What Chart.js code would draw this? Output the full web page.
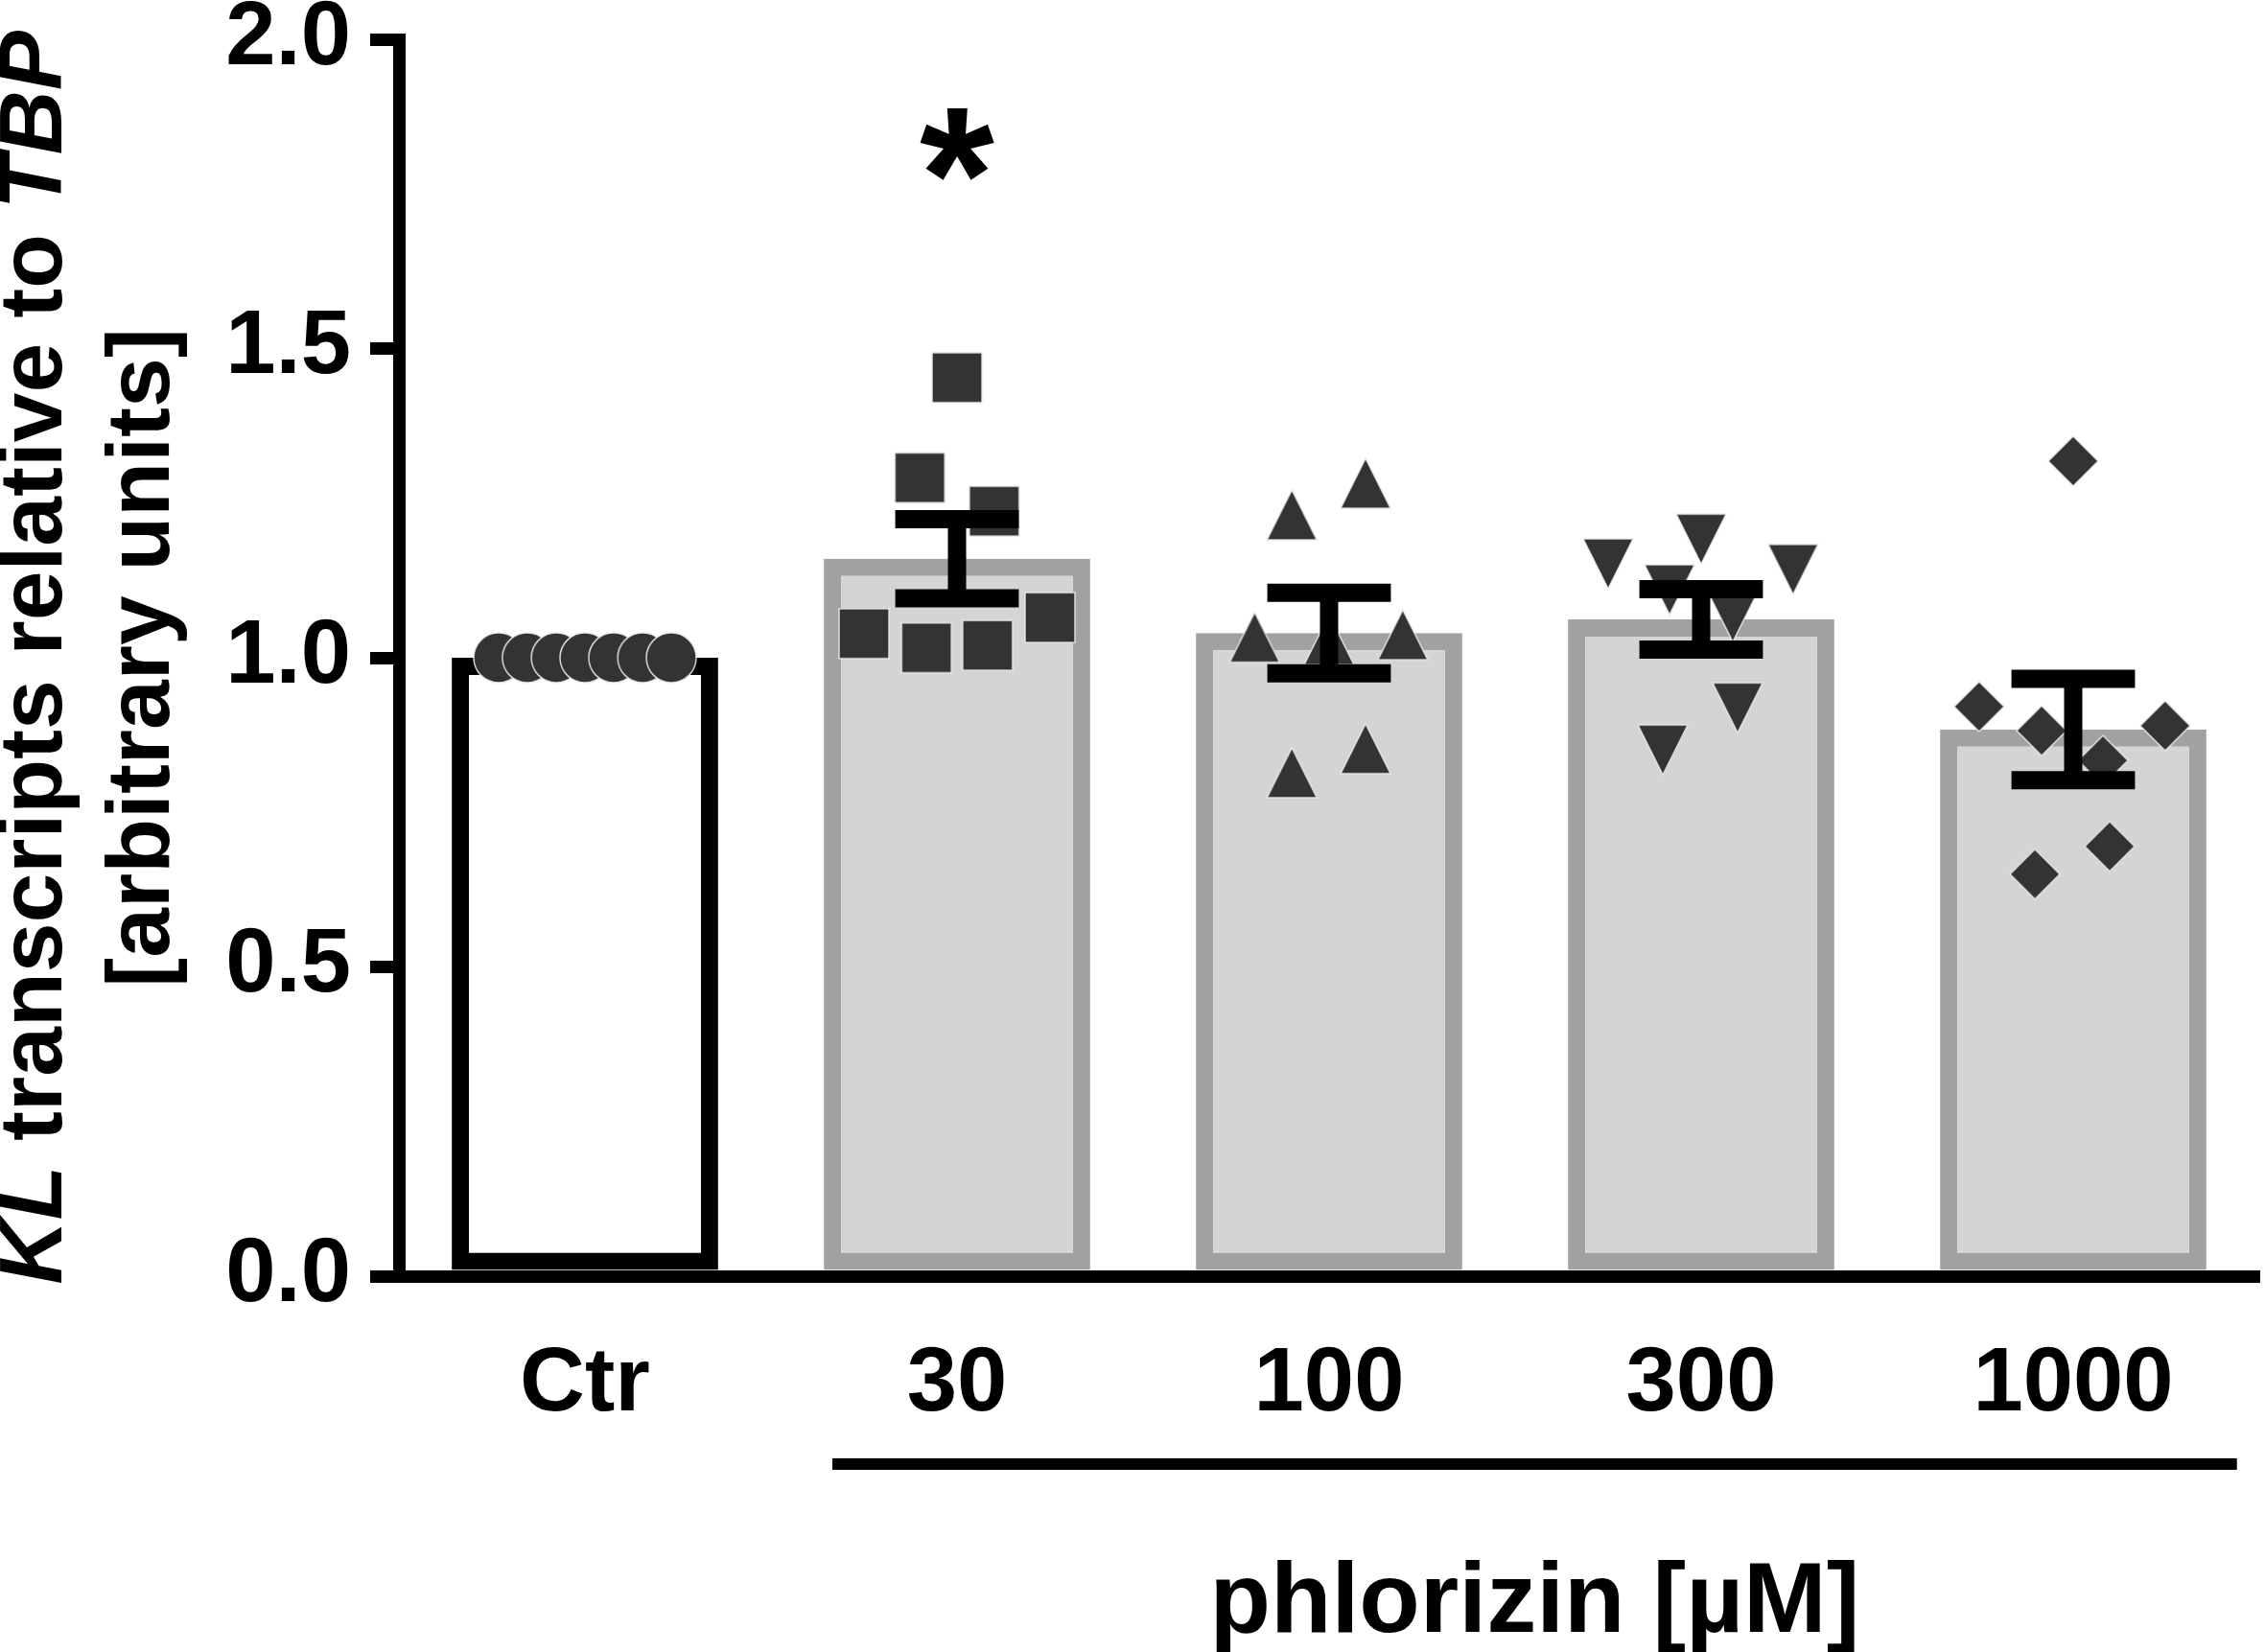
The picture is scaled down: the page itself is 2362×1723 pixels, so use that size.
<!DOCTYPE html>
<html>
<head>
<meta charset="utf-8">
<title>KL transcripts - phlorizin</title>
<script src="https://cdn.jsdelivr.net/npm/chart.js@4.4.1/dist/chart.umd.min.js"></script>
<style>
    html, body { margin: 0; padding: 0; background: #ffffff; }
    #wrap { width: 2362px; height: 1723px; }
</style>
</head>
<body>
<div id="wrap"><canvas id="kl-chart" width="2362" height="1723"></canvas></div>
<script>
// Groups on the x axis
const categories = ['Ctr', '30', '100', '300', '1000'];

// Bar heights (mean) and SEM
const groupMeans = [1.0, 1.160, 1.040, 1.062, 0.884];
const groupSem = [0, 0.064, 0.065, 0.049, 0.082];

// Single values per group and their horizontal spread (in category units)
const ctrValues = [1, 1, 1, 1, 1, 1, 1];
const ctrJitter = [-0.232, -0.155, -0.077, 0, 0.077, 0.155, 0.232];
const phz30Values = [1.453, 1.291, 1.237, 1.039, 1.016, 1.020, 1.065];
const phz30Jitter = [0, -0.10, 0.10, -0.25, -0.082, 0.082, 0.25];
const phz100Values = [1.231, 1.282, 1.033, 1.029, 1.037, 0.814, 0.853];
const phz100Jitter = [-0.10, 0.098, -0.20, 0, 0.198, -0.10, 0.098];
const phz300Values = [1.152, 1.192, 1.143, 1.110, 1.066, 0.919, 0.851];
const phz300Jitter = [-0.25, 0, 0.247, -0.085, 0.085, 0.098, -0.103];
const phz1000Values = [1.318, 0.921, 0.882, 0.834, 0.890, 0.695, 0.650];
const phz1000Jitter = [0, -0.253, -0.085, 0.080, 0.247, 0.098, -0.103];

// Y axis ticks
const yTicks = [0, 0.5, 1.0, 1.5, 2.0];

// Significance mark over the 30 µM group
const sigCategory = 1;
const sigValue = 1.831;

const FONT = "'Liberation Sans', Arial, sans-serif";
const tickFont = { family: FONT, weight: 'bold', size: 94 };

// Small canvases used as point symbols
function makeSymbol(kind) {
    const size = 56;
    const p = 2;
    const c = size / 2;
    const cv = document.createElement('canvas');
    cv.width = size;
    cv.height = size;
    const g = cv.getContext('2d');
    g.beginPath();
    if (kind === 'circle') {
        g.arc(c, c, c - p, 0, Math.PI * 2);
    } else if (kind === 'square') {
        g.rect(p, p, size - 2 * p, size - 2 * p);
    } else if (kind === 'up') {
        g.moveTo(c, p);
        g.lineTo(size - p, size - p);
        g.lineTo(p, size - p);
        g.closePath();
    } else if (kind === 'down') {
        g.moveTo(p, p);
        g.lineTo(size - p, p);
        g.lineTo(c, size - p);
        g.closePath();
    } else {
        g.moveTo(c, p);
        g.lineTo(size - p, c);
        g.lineTo(c, size - p);
        g.lineTo(p, c);
        g.closePath();
    }
    g.fillStyle = '#333333';
    g.fill();
    g.lineWidth = 1.5;
    g.strokeStyle = 'rgba(235,235,235,0.9)';
    g.stroke();
    return cv;
}

function pointsFor(index, values, jitter) {
    return values.map((v, k) => ({ x: index + jitter[k], y: v }));
}

function scatterSet(index, values, jitter, kind) {
    return {
        type: 'scatter',
        label: categories[index],
        data: pointsFor(index, values, jitter),
        xAxisID: 'xs',
        yAxisID: 'y',
        pointStyle: makeSymbol(kind),
        pointRadius: 26,
        pointHoverRadius: 26,
        order: 1
    };
}

// Error bars (mean ± SEM) drawn above the points
const errorBarsPlugin = {
    id: 'errorBars',
    afterDatasetsDraw(chart) {
        const ctx = chart.ctx;
        const xs = chart.scales.xs;
        const y = chart.scales.y;
        const catWidth = xs.getPixelForValue(1) - xs.getPixelForValue(0);
        const capHalf = catWidth * 0.166;
        ctx.save();
        ctx.strokeStyle = '#000000';
        ctx.lineWidth = 19;
        ctx.lineCap = 'butt';
        groupMeans.forEach((m, i) => {
            if (!groupSem[i]) return;
            const x = xs.getPixelForValue(i);
            const yTop = y.getPixelForValue(m + groupSem[i]);
            const yBot = y.getPixelForValue(m - groupSem[i]);
            ctx.beginPath();
            ctx.moveTo(x, yTop);
            ctx.lineTo(x, yBot);
            ctx.moveTo(x - capHalf, yTop);
            ctx.lineTo(x + capHalf, yTop);
            ctx.moveTo(x - capHalf, yBot);
            ctx.lineTo(x + capHalf, yBot);
            ctx.stroke();
        });
        ctx.restore();
    }
};

// Axis titles, group line and asterisk
const annotationsPlugin = {
    id: 'annotations',
    afterDraw(chart) {
        const ctx = chart.ctx;
        const area = chart.chartArea;
        const xs = chart.scales.xs;
        const y = chart.scales.y;
        ctx.save();
        ctx.fillStyle = '#000000';

        // Y axis title (two lines, gene names in italics)
        const titleSize = 93;
        const plain = 'bold ' + titleSize + 'px ' + FONT;
        const italic = 'italic bold ' + titleSize + 'px ' + FONT;
        const midY = (area.top + area.bottom) / 2;
        const lines = [
            { base: 64, parts: [['KL', italic], [' transcripts relative to ', plain], ['TBP', italic]] },
            { base: 176, parts: [['[arbitrary units]', plain]] }
        ];
        ctx.textBaseline = 'alphabetic';
        ctx.textAlign = 'left';
        lines.forEach(line => {
            let total = 0;
            line.parts.forEach(p => { ctx.font = p[1]; total += ctx.measureText(p[0]).width; });
            ctx.save();
            ctx.translate(line.base, midY);
            ctx.rotate(-Math.PI / 2);
            let pos = -total / 2;
            line.parts.forEach(p => {
                ctx.font = p[1];
                ctx.fillText(p[0], pos, 0);
                pos += ctx.measureText(p[0]).width;
            });
            ctx.restore();
        });

        // Line under the phlorizin groups
        const x1 = xs.getPixelForValue(0.665);
        const x2 = xs.getPixelForValue(4.44);
        const lineY = area.bottom + 196;
        ctx.strokeStyle = '#000000';
        ctx.lineWidth = 12;
        ctx.beginPath();
        ctx.moveTo(x1, lineY);
        ctx.lineTo(x2, lineY);
        ctx.stroke();

        // X axis title
        ctx.font = 'bold 104px ' + FONT;
        ctx.textAlign = 'center';
        ctx.textBaseline = 'alphabetic';
        ctx.fillText('phlorizin [µM]', (x1 + x2) / 2, area.bottom + 371);

        // Asterisk, centred on its own ink box
        ctx.font = 'bold 200px ' + FONT;
        ctx.textAlign = 'left';
        ctx.textBaseline = 'alphabetic';
        const m = ctx.measureText('*');
        const ax = xs.getPixelForValue(sigCategory);
        const ay = y.getPixelForValue(sigValue);
        const w = m.actualBoundingBoxRight + m.actualBoundingBoxLeft;
        const h = m.actualBoundingBoxAscent + m.actualBoundingBoxDescent;
        ctx.fillText('*', ax - w / 2 + m.actualBoundingBoxLeft, ay - h / 2 + m.actualBoundingBoxAscent);

        ctx.restore();
    }
};

const ctx = document.getElementById('kl-chart').getContext('2d');
new Chart(ctx, {
    data: {
        labels: categories,
        datasets: [
            {
                type: 'bar',
                label: 'mean',
                data: groupMeans,
                xAxisID: 'x',
                yAxisID: 'y',
                backgroundColor: ['#ffffff', '#d4d4d4', '#d4d4d4', '#d4d4d4', '#d4d4d4'],
                borderColor: ['#000000', '#a1a1a4', '#a1a1a4', '#a1a1a4', '#a1a1a4'],
                borderWidth: 18,
                borderSkipped: false,
                grouped: false,
                barPercentage: 0.716,
                categoryPercentage: 1,
                order: 2
            },
            scatterSet(0, ctrValues, ctrJitter, 'circle'),
            scatterSet(1, phz30Values, phz30Jitter, 'square'),
            scatterSet(2, phz100Values, phz100Jitter, 'up'),
            scatterSet(3, phz300Values, phz300Jitter, 'down'),
            scatterSet(4, phz1000Values, phz1000Jitter, 'diamond')
        ]
    },
    options: {
        responsive: false,
        animation: false,
        devicePixelRatio: 1,
        layout: { autoPadding: false, padding: { top: 41, right: 6, bottom: 0, left: 0 } },
        scales: {
            x: {
                type: 'category',
                offset: true,
                grid: { display: false },
                border: { display: true, color: '#000000', width: 13 },
                ticks: { font: tickFont, color: '#000000', padding: 50, maxRotation: 0 },
                afterFit(scale) {
                    scale.height = 392;
                    scale.paddingLeft = 0;
                    scale.paddingRight = 0;
                }
            },
            xs: {
                type: 'linear',
                min: -0.5,
                max: 4.5,
                display: false
            },
            y: {
                type: 'linear',
                position: 'left',
                min: 0,
                max: 2,
                grid: { drawOnChartArea: false, drawTicks: true, tickLength: 30, lineWidth: 13, color: '#000000' },
                border: { display: true, color: '#000000', width: 13 },
                ticks: { font: tickFont, color: '#000000', padding: 20, callback: v => v.toFixed(1) },
                afterBuildTicks(scale) {
                    scale.ticks = yTicks.map(v => ({ value: v }));
                },
                afterFit(scale) {
                    scale.width = 416;
                    scale.paddingTop = 0;
                    scale.paddingBottom = 0;
                }
            }
        },
        plugins: {
            legend: { display: false },
            tooltip: { enabled: false },
            title: { display: false }
        }
    },
    plugins: [errorBarsPlugin, annotationsPlugin]
});
</script>
</body>
</html>
